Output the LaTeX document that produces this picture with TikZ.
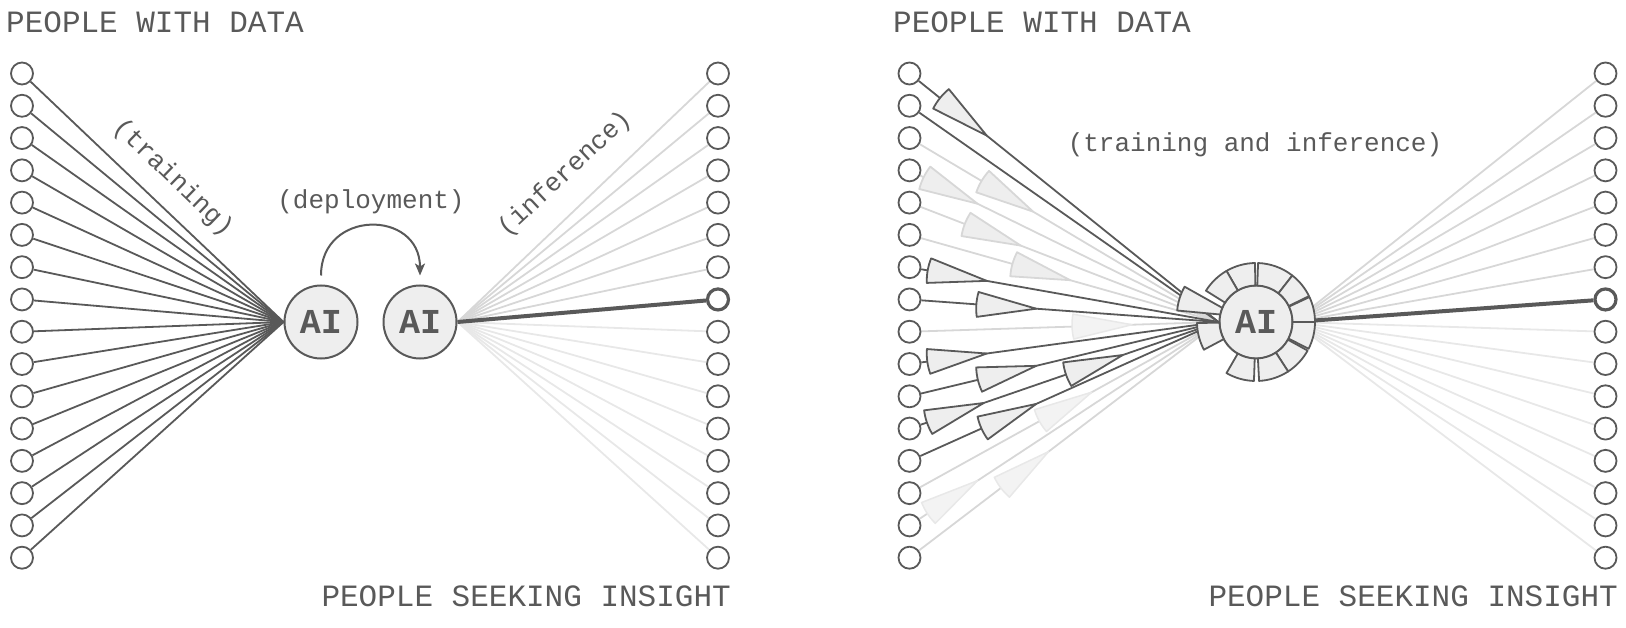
\documentclass[tikz,border=0pt]{standalone}
\usepackage{fontspec}
\setmonofont{Liberation Mono}
\usetikzlibrary{arrows.meta,calc,backgrounds}

\definecolor{ink}{HTML}{595959}
\definecolor{pale}{HTML}{EEEEEE}
\definecolor{mist}{HTML}{D7D7D7}
\definecolor{haze}{HTML}{E8E8E8}
\definecolor{ghost}{HTML}{F3F3F3}

\tikzset{
  person/.style={circle,draw=ink,line width=1.8pt,fill=white,minimum size=22pt,inner sep=0pt},
  chosen/.style={person,line width=3.2pt,minimum size=21pt},
  model/.style={circle,draw=ink,line width=2pt,fill=pale,minimum size=73pt,inner sep=0pt,
    text=ink,font=\ttfamily\bfseries\fontsize{35}{35}\selectfont},
  title/.style={inner sep=0pt,text=ink,font=\ttfamily\fontsize{31}{31}\selectfont},
  note/.style={inner sep=0pt,text=ink,font=\ttfamily\fontsize{26}{26}\selectfont},
  wire/.style={draw=ink,line width=1.8pt},
  idle/.style={draw=mist,line width=1.8pt},
  quiet/.style={draw=haze,line width=1.8pt},
  answer/.style={draw=ink,line width=4pt},
  packet/.style={fill=pale,draw=ink,line width=1.8pt,line join=round},
  lightpacket/.style={fill=pale,draw=mist,line width=1.8pt,line join=round},
  ghostpacket/.style={fill=ghost,draw=haze,line width=1.5pt,line join=round},
  cell/.style={fill=pale,draw=ink,line width=1.8pt,line join=round},
  flow/.style={draw=ink,line width=2pt,-{Stealth[length=12pt,width=10pt,inset=3pt]}}
}

\begin{document}
\begin{tikzpicture}[x=1pt,y=1pt]
\useasboundingbox (0,0) rectangle (1626,-628);

% left: train, deploy, then infer
\node[title,anchor=base west] (givers1) at (6,-32.5) {PEOPLE WITH DATA};
\node[title,anchor=base east] (askers1) at (731,-606.5) {PEOPLE SEEKING INSIGHT};
\foreach \i in {0,...,15}
  \node[person] (a\i) at (22,{-73.5-32.28*\i}) {};
\foreach \i in {0,1,2,3,4,5,6,8,9,10,11,12,13,14,15}
  \node[person] (b\i) at (718,{-73.5-32.28*\i}) {};
\node[chosen] (b7) at (718,{-73.5-32.28*7}) {};

\node[model] (ai1) at (321,-322) {AI};
\node[model] (ai2) at (420,-322) {AI};
\node[note] (deploy) at (371,-202) {(deployment)};
\node[note,rotate=-44] (train) at (173,-178) {(training)};
\node[note,rotate=43] (infer) at (565,-174) {(inference)};
\draw[flow] ([yshift=9pt]ai1.north) to[out=90,in=90,looseness=1.72] ([yshift=9pt]ai2.north);

\begin{scope}[on background layer]
\foreach \i in {0,...,15}
  \draw[wire] (a\i) -- (ai1.west);
\foreach \i in {0,...,6}
  \draw[idle] (ai2.east) -- (b\i);
\foreach \i in {8,...,15}
  \draw[quiet] (ai2.east) -- (b\i);
\draw[answer] (ai2.east) -- (b7);
\end{scope}

% right: both at once
\node[title,anchor=base west] (givers2) at (893,-32.5) {PEOPLE WITH DATA};
\node[title,anchor=base east] (askers2) at (1618,-606.5) {PEOPLE SEEKING INSIGHT};
\foreach \i in {0,...,15}
  \node[person] (c\i) at (909.5,{-73.5-32.28*\i}) {};
\foreach \i in {0,1,2,3,4,5,6,8,9,10,11,12,13,14,15}
  \node[person] (d\i) at (1605.5,{-73.5-32.28*\i}) {};
\node[chosen] (d7) at (1605.5,{-73.5-32.28*7}) {};
\node[note] (both) at (1255,-145) {(training and inference)};
\node[model] (ai3) at (1256,-322) {AI};

\begin{scope}[on background layer]
\foreach \i in {2,3,4,5,8,13,14,15}
  \draw[idle] (c\i) -- (ai3.west);
\foreach \s/\t in {c2/0.40,c3/0.22,c4/0.36,c5/0.52}
  \filldraw[lightpacket] let \p1=($(ai3.west)-(\s)$), \n1={atan2(\y1,\x1)} in
    ($(\s)!\t!(ai3.west)$) -- ++(\n1+168:60pt)
    arc[start angle=\n1+168,end angle=\n1+192,radius=60pt] -- cycle;
\foreach \s/\t in {c8/0.72,c13/0.59,c14/0.22,c15/0.45}
  \filldraw[ghostpacket] let \p1=($(ai3.west)-(\s)$), \n1={atan2(\y1,\x1)} in
    ($(\s)!\t!(ai3.west)$) -- ++(\n1+168:60pt)
    arc[start angle=\n1+168,end angle=\n1+192,radius=60pt] -- cycle;
\foreach \i in {0,1,6,7,9,10,11,12}
  \draw[wire] (c\i) -- (ai3.west);
\foreach \s/\t in {c0/0.25,c6/0.25,c7/0.41,c9/0.25,c10/0.41,c11/0.24,c11/0.69,c12/0.41}
  \filldraw[packet] let \p1=($(ai3.west)-(\s)$), \n1={atan2(\y1,\x1)} in
    ($(\s)!\t!(ai3.west)$) -- ++(\n1+168:60pt)
    arc[start angle=\n1+168,end angle=\n1+192,radius=60pt] -- cycle;
\filldraw[packet] ($(ai3.center)+(162.7:20pt)$) -- ++(150.7:60pt)
  arc[start angle=150.7,end angle=174.7,radius=60pt] -- cycle;
\foreach \i in {0,...,6}
  \draw[idle] (ai3.east) -- (d\i);
\foreach \i in {8,...,15}
  \draw[quiet] (ai3.east) -- (d\i);
\draw[answer] (ai3.east) -- (d7);
\end{scope}

% what the model has taken in so far
\foreach \a/\b in {91/120,120/148,52/88,26/52,0/25,-27/0,-57/-29,-87/-57,-120/-92,181/208}
  \filldraw[cell] ($(ai3.center)+(\a:36.5pt)$) arc[start angle=\a,end angle=\b,radius=36.5pt]
    -- ($(ai3.center)+(\b:59pt)$) arc[start angle=\b,end angle=\a,radius=59pt] -- cycle;
\end{tikzpicture}
\end{document}
